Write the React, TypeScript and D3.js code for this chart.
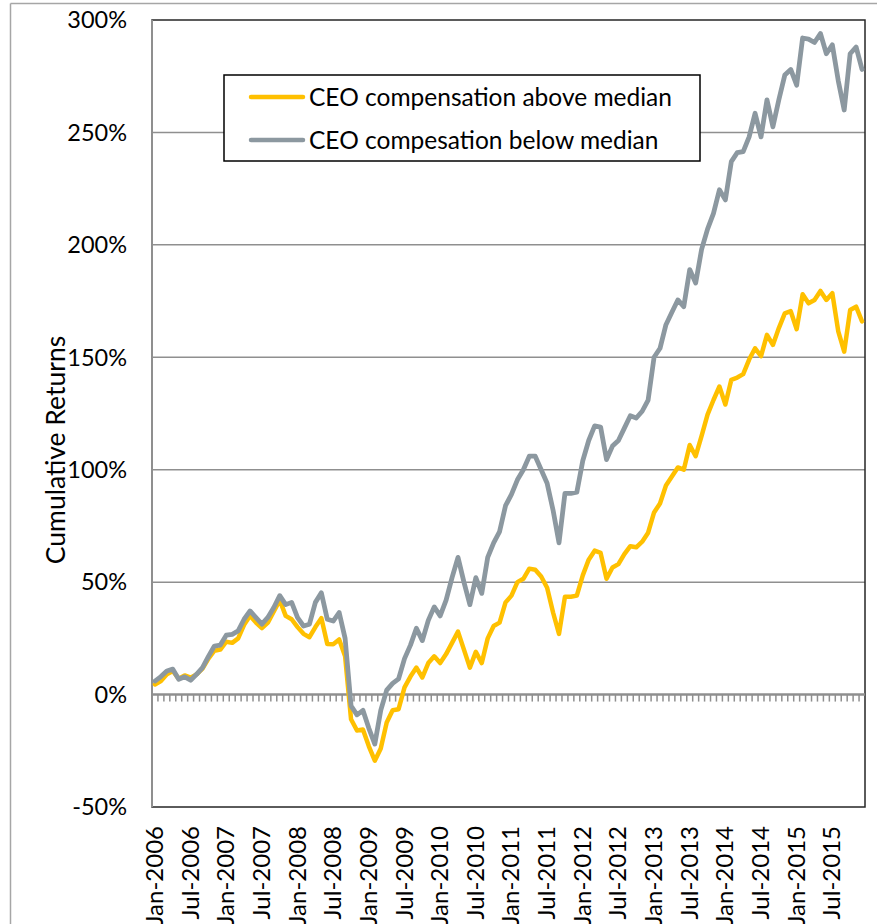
import { useMemo } from 'react';
import * as d3 from 'd3';

// monthly cumulative returns (%), Jan-2006 .. Dec-2015
const aboveMedian = [
  4.5, 6, 9, 10.5, 7, 8.5, 7.5, 9, 11.5, 16, 19.5, 20,
  23.5, 23, 25, 31, 35, 32, 29.5, 32, 37, 42, 35, 33.5,
  30, 27, 25.5, 30, 34, 22.5, 22.4, 24.5, 17, -11, -16, -15.5,
  -23, -29.4, -24, -12.4, -7, -6.5, 3.2, 8, 12, 7.6, 14, 17,
  14, 18, 23, 28, 20, 12, 19, 14, 25, 30.5, 32, 41,
  44, 50, 51.5, 56, 55.5, 52.5, 47.5, 36.5, 27, 43.5, 43.5, 44,
  53, 60, 64, 63, 51.5, 56.5, 58, 62.5, 66, 65.5, 68, 72,
  81, 85, 93, 97, 101, 100, 111, 106, 115, 124.5, 131, 137,
  129, 140, 141, 142.5, 149, 154, 150.5, 160, 155.5, 163, 169.5, 170.5,
  162.5, 178, 174, 175.5, 179.5, 175.5, 178.5, 161.5, 152.5, 171, 172.5, 166,
];

const belowMedian = [
  6, 8, 10.5, 11.3, 6.8, 7.9, 6.4, 9, 12, 17, 21.6, 22,
  26.4, 26.8, 28.3, 33.5, 37.2, 34.2, 31.3, 34.3, 38.7, 44, 40, 41,
  34.2, 30.5, 31.3, 41, 45.3, 33.5, 32.7, 36.5, 25, -5, -9, -7,
  -15, -22, -7, 2, 5, 7, 16, 22, 29.5, 24, 33, 39,
  35, 42, 52, 61, 50, 40, 52, 45, 61, 67.5, 72.5, 84,
  89, 95.5, 100, 106, 106, 100, 94, 82, 67.5, 89.5, 89.5, 90,
  104, 113, 119.5, 119, 104.5, 110.5, 113, 118.5, 124, 123, 126, 131,
  150, 154, 164.5, 170, 175.5, 172.5, 189, 183, 198, 207, 214, 224.5,
  220, 237, 241, 241.5, 248, 258.5, 248, 264.5, 252.5, 264.5, 275.5, 278,
  271, 292, 291.5, 290, 294, 285, 289, 273, 260, 285, 288, 278,
];

const xTickLabels = [
  'Jan-2006', 'Jul-2006', 'Jan-2007', 'Jul-2007', 'Jan-2008', 'Jul-2008',
  'Jan-2009', 'Jul-2009', 'Jan-2010', 'Jul-2010', 'Jan-2011', 'Jul-2011',
  'Jan-2012', 'Jul-2012', 'Jan-2013', 'Jul-2013', 'Jan-2014', 'Jul-2014',
  'Jan-2015', 'Jul-2015',
];

const yTicks = [-50, 0, 50, 100, 150, 200, 250, 300];

const seriesNames = ['CEO compensation above median', 'CEO compesation below median'];

const FONT = 'Lato, "Open Sans", sans-serif';
const YELLOW = '#FFC000';
const GREY = '#8C98A0';

export default function App() {
  const width = 877;
  const height = 924;
  const left = 152;
  const right = 865;
  const top = 20;
  const bottom = 807;

  const months = d3.range(aboveMedian.length);

  const x = useMemo(
    () => d3.scaleBand<number>().domain(months).range([left, right]).padding(0),
    []
  );
  const y = useMemo(() => d3.scaleLinear().domain([-50, 300]).range([bottom, top]), []);

  const cx = (i: number) => (x(i) as number) + x.bandwidth() / 2;

  const line = d3
    .line<number>()
    .x((_, i) => cx(i))
    .y((d) => y(d))
    .curve(d3.curveLinear);

  const y0 = y(0);

  return (
    <svg
      width={width}
      height={height}
      style={{ position: 'absolute', left: 0, top: 0, background: '#fff' }}
      fontFamily={FONT}
    >
      {/* chart area border */}
      <line x1={10.5} y1={3.5} x2={width} y2={3.5} stroke="#a6a6a6" strokeWidth={1.5} />
      <line x1={10.5} y1={3.5} x2={10.5} y2={height} stroke="#a6a6a6" strokeWidth={1.5} />

      {/* gridlines */}
      {yTicks
        .filter((t) => t !== 0 && t !== -50 && t !== 300)
        .map((t) => (
          <line key={t} x1={left} x2={right} y1={y(t)} y2={y(t)} stroke="#8f8f8f" strokeWidth={1.5} />
        ))}

      {/* plot border */}
      <rect x={left} y={top} width={right - left} height={bottom - top} fill="none" stroke="#262626" strokeWidth={1.5} />
      <line x1={left} x2={left} y1={top} y2={bottom} stroke="#8f8f8f" strokeWidth={2} />

      {/* zero axis with monthly tick marks */}
      {months.slice(1).map((i) => (
        <line
          key={i}
          x1={x(i) as number}
          x2={x(i) as number}
          y1={y0}
          y2={y0 + 7}
          stroke="#8f8f8f"
          strokeWidth={1.5}
        />
      ))}
      <line x1={left} x2={right} y1={y0} y2={y0} stroke="#8f8f8f" strokeWidth={2.5} />

      {/* y tick labels */}
      {yTicks.map((t) => (
        <text key={t} x={127} y={y(t)} dy="0.35em" textAnchor="end" fontSize={23.5} fill="#000">
          {`${t}%`}
        </text>
      ))}

      {/* x tick labels (cut by the bottom edge, as in the original) */}
      {xTickLabels.map((lab, k) => {
        const px = cx(k * 6);
        return (
          <text
            key={lab}
            transform={`translate(${px + 8},826) rotate(-90)`}
            textAnchor="end"
            fontSize={24}
            fill="#000"
          >
            {lab}
          </text>
        );
      })}

      {/* axis title */}
      <text transform="translate(65,450) rotate(-90)" textAnchor="middle" fontSize={26.5} fill="#000">
        Cumulative Returns
      </text>

      {/* series */}
      <path d={line(aboveMedian) || ''} fill="none" stroke={YELLOW} strokeWidth={4.5} strokeLinejoin="round" strokeLinecap="round" />
      <path d={line(belowMedian) || ''} fill="none" stroke={GREY} strokeWidth={4.8} strokeLinejoin="round" strokeLinecap="round" />

      {/* legend */}
      <g>
        <rect x={224} y={75} width={476} height={86} fill="#fff" stroke="#000" strokeWidth={1.5} />
        {seriesNames.map((name, i) => (
          <g key={name} transform={`translate(0,${97 + i * 43})`}>
            <line x1={251} x2={303} y1={0} y2={0} stroke={i === 0 ? YELLOW : GREY} strokeWidth={4.5} strokeLinecap="round" />
            <text x={309} y={0} dy="0.35em" fontSize={24.5} fill="#000">
              {name}
            </text>
          </g>
        ))}
      </g>
    </svg>
  );
}
